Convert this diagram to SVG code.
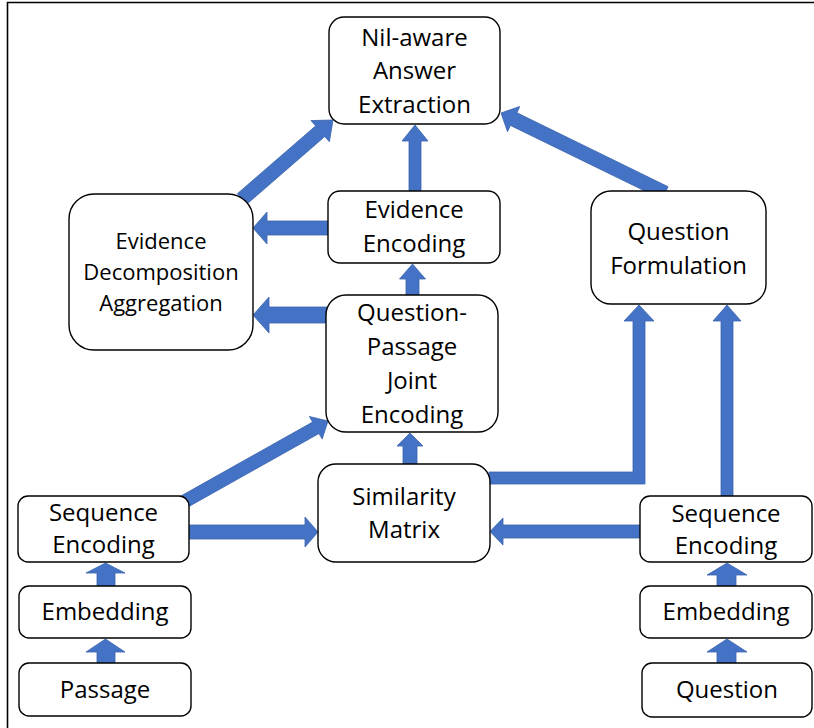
<svg xmlns="http://www.w3.org/2000/svg" width="814" height="728" viewBox="0 0 814 728">
<style>
.box{fill:#fff;stroke:#000;stroke-width:1.4}
.arr{fill:#4472C4;stroke:#3A63AE;stroke-width:0.8;stroke-linejoin:miter}
text{font-family:"Open Sans","Noto Sans","Liberation Sans",sans-serif;font-size:24px;fill:#000;text-anchor:middle}
.sm{font-size:22px}
</style>
<rect width="814" height="728" fill="#fff"/>
<path d="M7.5 728 V2.5 H814" fill="none" stroke="#000" stroke-width="1.6"/>
<g id="connectors">
  <polygon class="arr" points="246.6,204.3 324.8,136.5 329.4,141.8 333,120 311.0,120.6 315.6,125.9 237.4,193.7"/>
  <polygon class="arr" points="668.1,186.7 517,112.8 519.7,106.5 501,113 507.5,131.7 510.4,125.4 661.9,199.3"/>
  <polygon class="arr" points="183.2,509.7 319.0,433.5 322.2,439.1 328,421 309.4,416.5 312.6,422.1 176.8,498.3"/>
  <polygon class="arr" points="409,192 409,141 402,141 415,125 428,141 421,141 421,192"/>
  <polygon class="arr" points="329,221 267,221 267,212 253,228 267,244 267,235 329,235"/>
  <polygon class="arr" points="327,307 269,307 269,297 253,315 269,333 269,323 327,323"/>
  <polygon class="arr" points="406,296 406,279 399.5,279 412.5,264 425.5,279 419,279 419,296"/>
  <polygon class="arr" points="403,465 403,446 397,446 410,433 423,446 417,446 417,465"/>
  <polygon class="arr" points="188,525 305,525 305,517 318,532 305,547 305,539 188,539"/>
  <polygon class="arr" points="641,525 503,525 503,518 490,531.5 503,545 503,538 641,538"/>
  <polygon class="arr" points="489,472 633,472 633,321 624,321 639,305 654,321 645,321 645,484 489,484"/>
  <polygon class="arr" points="721,497 721,321 713,321 727,305 741,321 733,321 733,497"/>
  <polygon class="arr" points="97,587 97,573 86,573 105.5,563 125,573 115,573 115,587"/>
  <polygon class="arr" points="97,664 97,652 86,652 105.5,639 125,652 115,652 115,664"/>
  <polygon class="arr" points="717,587 717,575 707,575 727,563 747,575 736,575 736,587"/>
  <polygon class="arr" points="717,664 717,652 707,652 727,639 747,652 736,652 736,664"/>
</g>
<g id="nil-aware">
  <rect class="box" x="329" y="17" width="171" height="107" rx="15"/>
  <text x="414.5" y="46">Nil-aware</text>
  <text x="414.5" y="79">Answer</text>
  <text x="414.5" y="113">Extraction</text>
</g>
<g id="evidence-decomposition">
  <rect class="box" x="69" y="194" width="184" height="156" rx="25"/>
  <text class="sm" x="161" y="249">Evidence</text>
  <text class="sm" x="161" y="280">Decomposition</text>
  <text class="sm" x="161" y="311">Aggregation</text>
</g>
<g id="evidence-encoding">
  <rect class="box" x="328" y="191" width="172" height="72" rx="12"/>
  <text x="414" y="218">Evidence</text>
  <text x="414" y="252">Encoding</text>
</g>
<g id="qp-joint-encoding">
  <rect class="box" x="326" y="295" width="172" height="137" rx="20"/>
  <text x="412" y="321">Question-</text>
  <text x="412" y="355">Passage</text>
  <text x="412" y="389">Joint</text>
  <text x="412" y="423">Encoding</text>
</g>
<g id="question-formulation">
  <rect class="box" x="591" y="191" width="175" height="113" rx="20"/>
  <text x="678.5" y="240">Question</text>
  <text x="678.5" y="274">Formulation</text>
</g>
<g id="similarity-matrix">
  <rect class="box" x="318" y="464" width="172" height="98" rx="18"/>
  <text x="404" y="505">Similarity</text>
  <text x="404" y="538">Matrix</text>
</g>
<g id="seq-enc-passage">
  <rect class="box" x="18" y="496" width="171" height="66" rx="10"/>
  <text x="103.5" y="521">Sequence</text>
  <text x="103.5" y="553">Encoding</text>
</g>
<g id="embedding-passage">
  <rect class="box" x="19" y="586" width="172" height="52" rx="10"/>
  <text x="105" y="620">Embedding</text>
</g>
<g id="passage">
  <rect class="box" x="19" y="663" width="172" height="53" rx="10"/>
  <text x="105" y="698">Passage</text>
</g>
<g id="seq-enc-question">
  <rect class="box" x="640" y="496" width="172" height="66" rx="10"/>
  <text x="726" y="522">Sequence</text>
  <text x="726" y="554">Encoding</text>
</g>
<g id="embedding-question">
  <rect class="box" x="640" y="586" width="172" height="52" rx="10"/>
  <text x="726" y="620">Embedding</text>
</g>
<g id="question">
  <rect class="box" x="642" y="663" width="170" height="54" rx="10"/>
  <text x="727" y="698">Question</text>
</g>
</svg>
